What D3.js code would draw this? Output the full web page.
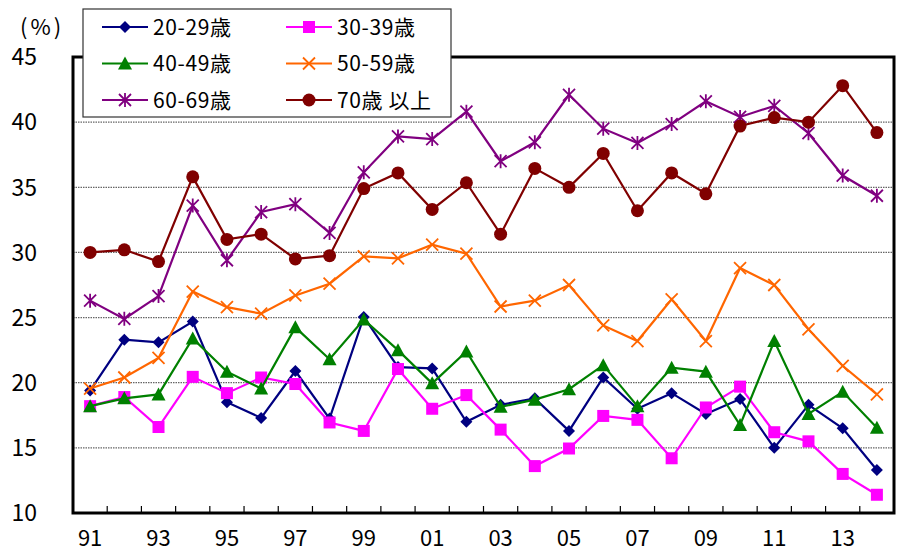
<!DOCTYPE html>
<html><head><meta charset="utf-8">
<script src="https://cdn.jsdelivr.net/npm/d3@7"></script>
<style>body{margin:0;background:#fff}svg{display:block}</style>
</head><body><svg id="c" width="902" height="553"></svg>
<script>
const years = ["91","92","93","94","95","96","97","98","99","00","01","02","03","04","05","06","07","08","09","10","11","12","13","14"];
const yTicks = [10,15,20,25,30,35,40,45];
const s20 = [19.4,23.3,23.1,24.7,18.5,17.3,20.9,17.25,25.05,21.2,21.1,17.0,18.3,18.8,16.3,20.4,18.0,19.2,17.6,18.75,15.0,18.3,16.5,13.3];
const s30 = [18.2,18.9,16.6,20.45,19.2,20.4,19.9,16.95,16.3,21.05,18.0,19.05,16.4,13.6,14.95,17.45,17.15,14.2,18.1,19.7,16.2,15.5,13.0,11.4];
const s40 = [18.2,18.8,19.1,23.4,20.85,19.55,24.25,21.8,24.85,22.5,19.95,22.4,18.15,18.7,19.5,21.35,18.2,21.15,20.85,16.75,23.2,17.6,19.3,16.55];
const s50 = [19.55,20.4,21.9,27.0,25.8,25.3,26.7,27.6,29.7,29.55,30.6,29.9,25.85,26.3,27.5,24.4,23.2,26.4,23.2,28.8,27.5,24.1,21.3,19.1];
const s60 = [26.3,24.9,26.65,33.6,29.4,33.1,33.7,31.5,36.15,38.9,38.7,40.8,37.0,38.45,42.1,39.5,38.4,39.85,41.6,40.4,41.25,39.15,35.9,34.35];
const s70 = [30.0,30.2,29.3,35.8,31.0,31.4,29.5,29.75,34.9,36.1,33.3,35.35,31.4,36.45,35.0,37.6,33.2,36.1,34.5,39.7,40.35,40.0,42.8,39.2];
const seriesNames = ["20-29歳","30-39歳","40-49歳","50-59歳","60-69歳","70歳 以上"];
const seriesData = [s20,s30,s40,s50,s60,s70];
const colors = ["#000080","#FF00FF","#008000","#FF6600","#800080","#800000"];
const markers = ["diamond","square","triangle","x","star","circle"];

const svg = d3.select("#c");
const L=73, R=894, T=57, B=513;
const x = d3.scaleBand().domain(years).range([L,R]).padding(0);
const y = d3.scaleLinear().domain([10,45]).range([B,T]);
const cx = d => x(d)+x.bandwidth()/2;
const font = "'Noto Sans CJK JP', 'Noto Sans', sans-serif";

// gridlines
svg.append("g").selectAll("line").data(yTicks.filter(v=>v>10&&v<45)).join("line")
  .attr("x1",L).attr("x2",R).attr("y1",d=>y(d)).attr("y2",d=>y(d))
  .attr("stroke","#666").attr("stroke-width",1.3).attr("stroke-dasharray","1.5,1");

// x ticks (between categories, inward)
svg.append("g").selectAll("line").data(years.slice(1)).join("line")
  .attr("x1",d=>x(d)).attr("x2",d=>x(d)).attr("y1",B).attr("y2",B-7)
  .attr("stroke","#000").attr("stroke-width",1.2);

// frame
svg.append("rect").attr("x",L).attr("y",T).attr("width",R-L).attr("height",B-T)
  .attr("fill","none").attr("stroke","#000").attr("stroke-width",3);

// y labels
svg.append("g").selectAll("text").data(yTicks).join("text")
  .attr("x",37).attr("y",d=>y(d)).attr("dy","0.36em").attr("text-anchor","end")
  .attr("font-family",font).attr("font-size",23).text(d=>d);
svg.append("text").attr("x",20).attr("y",35).attr("font-family",font).attr("font-size",22)
  .attr("letter-spacing",3).text("(%)");

// x labels
svg.append("g").selectAll("text").data(years.filter((d,i)=>i%2===0)).join("text")
  .attr("x",d=>cx(d)).attr("y",546).attr("text-anchor","middle")
  .attr("font-family",font).attr("font-size",22).text(d=>d);

function marker(g, type, col, size){
  const s=size;
  if(type==="diamond") g.append("path").attr("d",`M0,${-s}L${s},0L0,${s}L${-s},0Z`).attr("fill",col);
  else if(type==="square") g.append("rect").attr("x",-s).attr("y",-s).attr("width",2*s).attr("height",2*s).attr("fill",col);
  else if(type==="triangle") g.append("path").attr("d",`M0,${-s-1}L${s+1},${s}L${-s-1},${s}Z`).attr("fill",col);
  else if(type==="circle") g.append("circle").attr("r",s+0.5).attr("fill",col);
  else if(type==="x") g.append("path").attr("d",`M${-s},${-s}L${s},${s}M${-s},${s}L${s},${-s}`).attr("stroke",col).attr("stroke-width",1.8);
  else if(type==="star") g.append("path").attr("d",`M${-s},${-s}L${s},${s}M${-s},${s}L${s},${-s}M0,${-s-1}L0,${s+1}`).attr("stroke",col).attr("stroke-width",1.8);
}
const line = d3.line().x((d,i)=>cx(years[i])).y(d=>y(d));
seriesData.forEach((data,k)=>{
  const g = svg.append("g");
  g.append("path").datum(data).attr("d",line).attr("fill","none").attr("stroke",colors[k]).attr("stroke-width",2.2);
  data.forEach((v,i)=>{
    const m=g.append("g").attr("transform",`translate(${cx(years[i])},${y(v)})`);
    marker(m,markers[k],colors[k],6);
  });
});

// legend
const lg = svg.append("g");
lg.append("rect").attr("x",83).attr("y",9).attr("width",368).attr("height",108)
  .attr("fill","#fff").attr("stroke","#333").attr("stroke-width",1.2);
seriesNames.forEach((n,k)=>{
  const col=k%2, row=Math.floor(k/2);
  const x0 = col===0?102:286, yy = 27+row*36.5;
  lg.append("line").attr("x1",x0).attr("x2",x0+46).attr("y1",yy).attr("y2",yy).attr("stroke",colors[k]).attr("stroke-width",2.2);
  const m=lg.append("g").attr("transform",`translate(${x0+23},${yy})`);
  marker(m,markers[k],colors[k],6);
  lg.append("text").attr("x",x0+51).attr("y",yy).attr("dy","0.36em").attr("font-family",font).attr("font-size",21).attr("letter-spacing",0.6).text(n);
});
</script></body></html>
